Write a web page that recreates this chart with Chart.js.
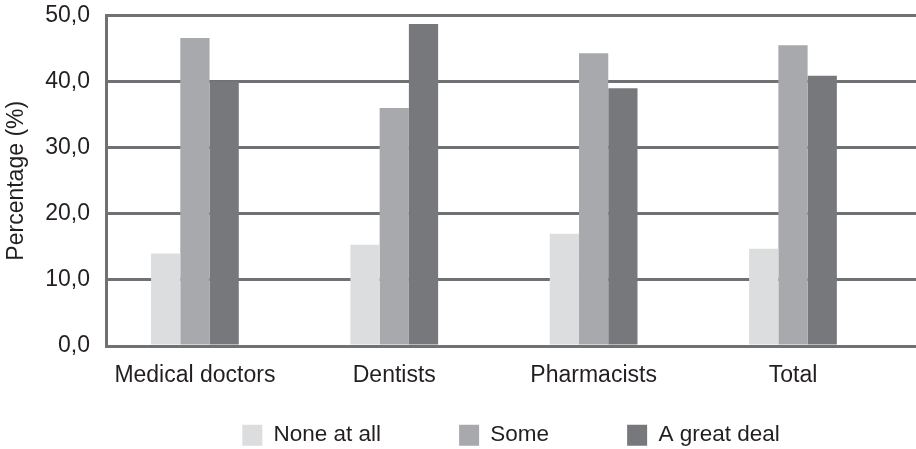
<!DOCTYPE html>
<html>
<head>
<meta charset="utf-8">
<script src="https://cdn.jsdelivr.net/npm/chart.js@4/dist/chart.umd.min.js"></script>
<style>
  html, body { margin: 0; padding: 0; background: #fff; }
  #wrap { width: 916px; height: 449px; position: relative; }
</style>
</head>
<body>
<div id="wrap"><canvas id="chart"></canvas></div>
<script>
const categories = ["Medical doctors", "Dentists", "Pharmacists", "Total"];
const noneAtAll = [14.0, 15.3, 17.0, 14.7];
const some = [46.6, 36.0, 44.3, 45.5];
const aGreatDeal = [40.0, 48.7, 39.0, 40.9];
const yTicks = [0, 10, 20, 30, 40, 50];

const textColor = "#231f20";
const gridColor = "#707174";
const fontFamily = "'Liberation Sans', Arial, sans-serif";

// bars sit on a linear index axis so the groups line up with the picture
const toPoints = values => values.map((v, i) => ({ x: i, y: v }));

const datasets = [
  { label: "None at all", data: toPoints(noneAtAll), backgroundColor: "#dcdddf" },
  { label: "Some", data: toPoints(some), backgroundColor: "#a8a9ac" },
  { label: "A great deal", data: toPoints(aGreatDeal), backgroundColor: "#77787b" }
].map(ds => ({ ...ds, borderWidth: 0, categoryPercentage: 0.44, barPercentage: 1 }));

new Chart(document.getElementById("chart"), {
  type: "bar",
  data: { datasets },
  options: {
    responsive: true,
    maintainAspectRatio: false,
    animation: false,
    layout: { padding: { top: 15.5, right: 0, left: 0, bottom: 0 } },
    plugins: {
      tooltip: { enabled: false },
      legend: {
        position: "bottom",
        fullSize: false,
        // the legend takes the whole strip under the plot; wide padding spreads
        // the items and also drops them to the bottom row
        maxHeight: 103,
        labels: {
          color: textColor,
          font: { family: fontFamily, size: 22.5 },
          boxWidth: 20,
          boxHeight: 21,
          padding: 78
        }
      }
    },
    scales: {
      x: {
        type: "linear",
        offset: false,
        min: -0.446,
        max: 3.617,
        afterBuildTicks(scale) {
          scale.ticks = categories.map((_, i) => ({ value: i }));
        },
        afterFit(scale) {
          scale.height = 0;
        },
        ticks: {
          // mirrored labels are not clipped to the (empty) axis box;
          // negative padding puts them back below the plot
          mirror: true,
          color: textColor,
          font: { family: fontFamily, size: 23 },
          padding: -43,
          maxRotation: 0,
          autoSkip: false,
          callback: value => categories[value] ?? ""
        },
        grid: { display: false, drawTicks: false },
        border: { display: false }
      },
      y: {
        min: 0,
        max: 50,
        afterBuildTicks(scale) {
          scale.ticks = yTicks.map(v => ({ value: v }));
        },
        afterFit(scale) {
          scale.width = 106;
          // layout padding alone sets the plot top
          scale.paddingTop = 0;
          scale.paddingBottom = 0;
        },
        ticks: {
          color: textColor,
          font: { family: fontFamily, size: 23 },
          padding: 16,
          callback: value => value.toFixed(1).replace(".", ",")
        },
        grid: { color: gridColor, lineWidth: 3, drawTicks: false },
        border: { display: true, color: gridColor, width: 3 },
        title: {
          display: true,
          text: "Percentage (%)",
          color: textColor,
          font: { family: fontFamily, size: 23 },
          padding: { top: 3, bottom: 0 }
        }
      }
    }
  }
});
</script>
</body>
</html>
